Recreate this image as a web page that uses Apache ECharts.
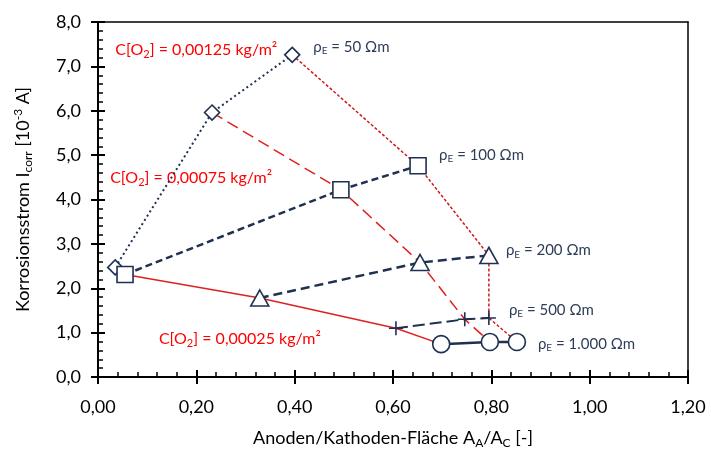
<!DOCTYPE html>
<html>
<head>
<meta charset="utf-8">
<script src="https://cdn.jsdelivr.net/npm/echarts@6/dist/echarts.min.js"></script>
<style>html,body{margin:0;padding:0;background:#fff}#c{width:711px;height:454px}</style>
</head>
<body>
<div id="c"></div>
<script>
// ---- data (rows: resistivity ρE; columns: O2 concentration) ----
const resistivities = ['50', '100', '200', '500', '1.000'];
const concentrations = ['0,00025', '0,00075', '0,00125'];
const areaRatio = [
  [0.035, 0.232, 0.395],
  [0.055, 0.494, 0.651],
  [0.329, 0.655, 0.795],
  [0.606, 0.746, 0.795],
  [0.698, 0.797, 0.852]
];
const currentVals = [
  [2.47, 5.96, 7.26],
  [2.31, 4.22, 4.76],
  [1.78, 2.58, 2.74],
  [1.10, 1.30, 1.33],
  [0.74, 0.79, 0.79]
];
const xTicks = [0, 0.2, 0.4, 0.6, 0.8, 1.0, 1.2];
const yTicks = [0, 1, 2, 3, 4, 5, 6, 7, 8];
const minorPerMajor = 5;

// ---- styles ----
const NAVY = '#1f3050';
const TXT = '#2e3d57';
const RED = '#ff0000';
const FONT = 'Lato';
const navyStyles = [
  { symbol: 'diamond', size: [15, 15], line: { type: [2, 3], width: 2 } },
  { symbol: 'rect', size: 16, line: { type: [7, 4], width: 2.5 } },
  { symbol: 'triangle', size: [18, 16], line: { type: [9, 5], width: 2.5 } },
  { symbol: 'path://M7,0V14M0,7H14', size: 14, line: { type: [12, 5], width: 2 } },
  { symbol: 'circle', size: 17, line: { type: 'solid', width: 2.5 } }
];
const rhoLabelOffsets = [[21, -8], [21, -11], [17, -5], [20, -8], [21, 2]];
const redStyles = [
  { line: { type: 'solid', width: 1.5, color: '#e02020' } },
  { line: { type: [12, 6], width: 1.5, color: '#e02020' } },
  { line: { type: [3, 2], width: 1.5, color: '#d01818' } }
];
const cLabelAnchors = [2, 0, 0];
const cLabelOffsets = [[61, 41], [60, 65], [-15, -5]];

const series = [];
concentrations.forEach((c, j) => {
  const data = resistivities.map((r, i) => {
    const item = { value: [areaRatio[i][j], currentVals[i][j]] };
    if (i === cLabelAnchors[j]) {
      item.label = {
        show: true, position: 'inside', align: 'right', verticalAlign: 'middle',
        offset: cLabelOffsets[j],
        formatter: 'C[O{s|2}] = ' + c + ' kg/m²',
        color: RED, fontFamily: FONT, fontSize: 16,
        rich: { s: { fontSize: 11, color: RED, fontFamily: FONT, padding: [9, 0, 0, 0] } }
      };
    }
    return item;
  });
  series.push({
    type: 'line', data, z: 1,
    symbol: 'circle', symbolSize: 1, showSymbol: true,
    itemStyle: { color: 'rgba(0,0,0,0)' },
    lineStyle: redStyles[j].line,
    silent: true
  });
});
resistivities.forEach((r, i) => {
  const st = navyStyles[i];
  const data = concentrations.map((c, j) => {
    const item = { value: [areaRatio[i][j], currentVals[i][j]] };
    if (j === concentrations.length - 1) {
      item.label = {
        show: true, position: 'inside', align: 'left', verticalAlign: 'middle',
        offset: rhoLabelOffsets[i],
        formatter: 'ρ{s|E} = ' + r + ' Ωm',
        color: TXT, fontFamily: FONT, fontSize: 15,
        rich: { s: { fontSize: 10, color: TXT, fontFamily: FONT, padding: [8, 0, 0, 0] } }
      };
    }
    return item;
  });
  series.push({
    type: 'line', data, z: 3,
    symbol: st.symbol, symbolSize: st.size, showSymbol: true,
    itemStyle: { color: '#fff', borderColor: NAVY, borderWidth: 1.6 },
    lineStyle: Object.assign({ color: NAVY }, st.line),
    silent: true
  });
});

const fmtX = v => v.toFixed(2).replace('.', ',');
const fmtY = v => v.toFixed(1).replace('.', ',');
const axisLn = { show: true, onZero: false, lineStyle: { color: '#000', width: 2 } };
const xMin = xTicks[0], xMax = xTicks[xTicks.length - 1], xStep = xTicks[1] - xTicks[0];
const yMin = yTicks[0], yMax = yTicks[yTicks.length - 1], yStep = yTicks[1] - yTicks[0];

function tickAxis(min, max, interval, inside, length, width, pos) {
  return {
    type: 'value', min, max, interval, position: pos,
    axisLine: axisLn,
    axisTick: { show: true, inside, length, lineStyle: { color: '#000', width } },
    splitLine: { show: false },
    axisLabel: { show: false }
  };
}
function borderAxis(min, max, interval, pos) {
  return {
    type: 'value', min, max, interval, position: pos,
    axisLine: { show: true, onZero: false, lineStyle: { color: '#000', width: 1.5 } },
    axisTick: { show: false }, splitLine: { show: false }, axisLabel: { show: false }
  };
}

const chart = echarts.init(document.getElementById('c'));
chart.setOption({
  animation: false,
  grid: { left: 98, top: 22, right: 23, bottom: 76 },
  xAxis: [{
    type: 'value', min: xMin, max: xMax, interval: xStep,
    axisLine: axisLn,
    axisTick: { show: true, inside: true, length: 7, lineStyle: { color: '#000', width: 2 } },
    minorTick: { show: true, splitNumber: minorPerMajor, length: 5, lineStyle: { color: '#000', width: 1.5 } },
    splitLine: { show: false },
    axisLabel: { formatter: fmtX, color: '#000', fontFamily: FONT, fontSize: 18, margin: 21 },
    name: 'Anoden/Kathoden-Fläche A{s|A}/A{s|C} [-]',
    nameLocation: 'middle', nameGap: 50,
    nameTextStyle: { color: '#000', fontFamily: FONT, fontSize: 18,
      rich: { s: { fontSize: 12, fontFamily: FONT, color: '#000', padding: [10, 0, 0, 0] } } }
  },
    tickAxis(xMin, xMax, xStep, false, 7, 2, 'bottom'),
    borderAxis(xMin, xMax, xStep, 'top')
  ],
  yAxis: [{
    type: 'value', min: yMin, max: yMax, interval: yStep,
    axisLine: axisLn,
    axisTick: { show: true, inside: true, length: 7, lineStyle: { color: '#000', width: 2 } },
    minorTick: { show: true, splitNumber: minorPerMajor, length: 5, lineStyle: { color: '#000', width: 1.5 } },
    splitLine: { show: false },
    axisLabel: { formatter: fmtY, color: '#000', fontFamily: FONT, fontSize: 18, margin: 17 },
    name: 'Korrosionsstrom I{s|corr} [10{p|-3} A]',
    nameLocation: 'middle', nameGap: 64,
    nameTextStyle: { color: '#000', fontFamily: FONT, fontSize: 18,
      rich: {
        s: { fontSize: 12, fontFamily: FONT, color: '#000', padding: [10, 0, 0, 0] },
        p: { fontSize: 12, fontFamily: FONT, color: '#000', padding: [0, 0, 10, 0] }
      } }
  },
    tickAxis(yMin, yMax, yStep, false, 7, 2, 'left'),
    borderAxis(yMin, yMax, yStep, 'right')
  ],
  series
});
</script>
</body>
</html>
